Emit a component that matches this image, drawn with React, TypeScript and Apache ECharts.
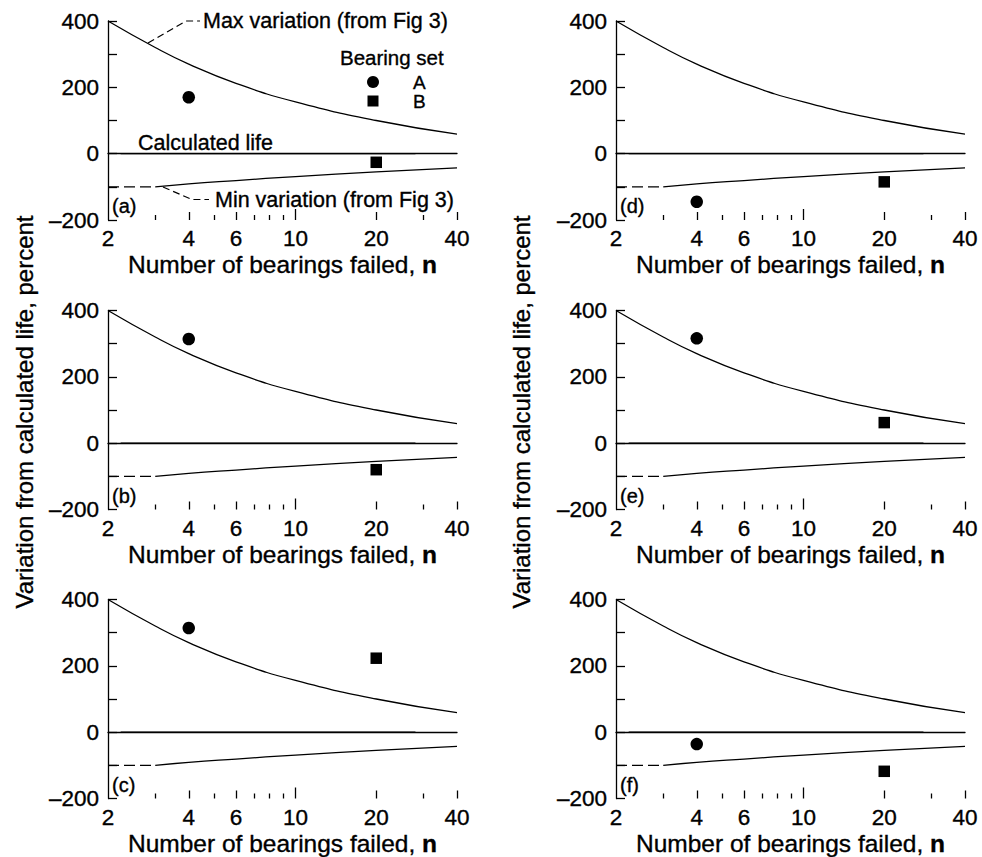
import React, { useEffect, useRef } from "react";
import * as echarts from "echarts";

const FONT = "'Liberation Sans', Arial, Helvetica, sans-serif";

// Envelope curves (from Fig 3), x = number of bearings failed n, y = percent
const nMax = [2, 3, 4, 6, 10, 20, 40];
const maxVariation = [400, 320, 270, 212, 156, 100, 59];
const nMin = [3, 4, 6, 10, 20, 40];
const minVariation = [-100, -91, -81, -69, -55, -43];
const nMinDash = [2, 3];
const minDash = [-100, -100];
const nCalc = [2.23, 28];
const calcLife = [0, 0];

// Bearing sets per panel (a)..(f)
const panelLabels = ["(a)", "(b)", "(c)", "(d)", "(e)", "(f)"];
const nSetA = 4;
const nSetB = 20;
const setA = [170, 314, 314, -145, 316, -36];
const setB = [-26, -80, 223, -85, 62, -118];

// Ticks
const xLabelTicks = [2, 4, 6, 10, 20, 40];
const xMinorTicks = [3, 5, 7, 8, 9, 30];
const xMidTicks = [4, 6, 20, 40];
const xMajorTicks = [10];
const yMin = -200;
const yMax = 400;
const yStep = 100;

const colLeft = [108, 616];
const rowTop = [21, 310.5, 599.5];
const GW = 349;
const GH = 199;

const black = "#000";
const heavy = { textBorderColor: black, textBorderWidth: 0.35 };

function buildOption() {
  const grid: any[] = [];
  const xAxis: any[] = [];
  const yAxis: any[] = [];
  const series: any[] = [];
  const lx = (v: number) => Math.log10(v);

  panelLabels.forEach((lab, i) => {
    const col = i < 3 ? 0 : 1;
    const row = i % 3;
    const rect = { left: colLeft[col], top: rowTop[row], width: GW, height: GH, containLabel: false, outerBoundsMode: "none" };
    const base = grid.length;
    // main grid with log axis for data
    grid.push({ ...rect });
    xAxis.push({
      type: "log",
      logBase: 10,
      gridIndex: base,
      min: 2,
      max: 40,
      axisLine: { show: true, lineStyle: { color: black, width: 1.3 } },
      axisTick: { show: false },
      axisLabel: { show: false },
      splitLine: { show: false },
      minorTick: { show: false },
      name: "Number of bearings failed, {b|n}",
      nameLocation: "middle",
      nameGap: 32,
      nameTextStyle: {
        color: black,
        fontSize: 24.5,
        fontFamily: FONT,
        ...heavy,
        rich: { b: { fontWeight: "bold", fontSize: 24.5, fontFamily: FONT, color: black } },
      },
    });
    yAxis.push({
      type: "value",
      gridIndex: base,
      min: yMin,
      max: yMax,
      interval: yStep,
      axisLine: { show: true, lineStyle: { color: black, width: 1.3 } },
      axisTick: { show: true, inside: true, length: 9, lineStyle: { color: black, width: 1.3 } },
      axisLabel: {
        color: black,
        fontSize: 22.5,
        fontFamily: FONT,
        margin: 9,
        ...heavy,
        formatter: (v: number) => (Math.abs(v) % 200 === 0 ? (v < 0 ? "\u2013" + Math.abs(v) : String(v)) : ""),
      },
      splitLine: { show: false },
    });
    // overlay grids for x ticks of different lengths
    const overlays = [
      { ticks: xMinorTicks, len: 5, labels: true },
      { ticks: xMidTicks, len: 8, labels: false },
      { ticks: xMajorTicks, len: 11, labels: false },
    ];
    overlays.forEach((o) => {
      const g = grid.length;
      grid.push({ ...rect });
      xAxis.push({
        type: "value",
        gridIndex: g,
        min: lx(2),
        max: lx(40),
        axisLine: { show: false },
        axisTick: {
          show: true,
          inside: true,
          length: o.len,
          customValues: o.ticks.map(lx),
          lineStyle: { color: black, width: 1.3 },
        },
        axisLabel: o.labels
          ? {
              show: true,
              color: black,
              fontSize: 22.5,
              fontFamily: FONT,
              margin: 7,
              ...heavy,
              customValues: xLabelTicks.map(lx),
              formatter: (v: number) => String(Math.round(Math.pow(10, v))),
            }
          : { show: false },
        splitLine: { show: false },
      });
      yAxis.push({ type: "value", gridIndex: g, min: 0, max: 1, show: false });
    });

    const ax = { xAxisIndex: base, yAxisIndex: base };
    const lineCommon = { type: "line", showSymbol: false, symbol: "none", silent: true, ...ax };
    series.push({
      ...lineCommon,
      name: "Max variation",
      smooth: true,
      data: nMax.map((n, k) => [n, maxVariation[k]]),
      lineStyle: { color: black, width: 1.3 },
    });
    series.push({
      ...lineCommon,
      name: "Min variation",
      smooth: true,
      data: nMin.map((n, k) => [n, minVariation[k]]),
      lineStyle: { color: black, width: 1.3 },
    });
    series.push({
      ...lineCommon,
      name: "Min variation (extrapolated)",
      data: nMinDash.map((n, k) => [n, minDash[k]]),
      lineStyle: { color: black, width: 1.3, type: [11, 5] },
    });
    series.push({
      ...lineCommon,
      name: "Calculated life",
      data: nCalc.map((n, k) => [n, calcLife[k]]),
      lineStyle: { color: black, width: 1.3 },
    });
    series.push({
      type: "scatter",
      name: "A",
      ...ax,
      symbol: "circle",
      symbolSize: 12.5,
      itemStyle: { color: black, opacity: 1 },
      data: [[nSetA, setA[i]]],
    });
    series.push({
      type: "scatter",
      name: "B",
      ...ax,
      symbol: "rect",
      symbolSize: 11.5,
      itemStyle: { color: black, opacity: 1 },
      data: [[nSetB, setB[i]]],
    });
  });

  const txt = (x: number, y: number, text: string, size: number, extra: any = {}) => ({
    type: "text",
    x,
    y,
    style: {
      text,
      fill: black,
      font: `${size}px ${FONT}`,
      textAlign: "left",
      textVerticalAlign: "middle",
      stroke: black,
      lineWidth: 0.35,
      ...extra,
    },
    silent: true,
  });

  const graphic: any[] = [];
  // panel labels
  panelLabels.forEach((lab, i) => {
    const col = i < 3 ? 0 : 1;
    const row = i % 3;
    graphic.push(txt(colLeft[col] + 4, rowTop[row] + GH - 14, lab, 20));
  });
  // y axis titles
  [24, 521].forEach((x) => {
    graphic.push({
      type: "text",
      x,
      y: 412,
      rotation: Math.PI / 2,
      style: {
        text: "Variation from calculated life, percent",
        fill: black,
        stroke: black,
        lineWidth: 0.35,
        font: `24px ${FONT}`,
        textAlign: "center",
        textVerticalAlign: "middle",
      },
      silent: true,
    });
  });
  // annotations in panel (a)
  graphic.push({
    type: "polyline",
    shape: { points: [[148, 43], [186, 21], [200, 21]] },
    style: { stroke: black, lineWidth: 1.2, lineDash: [7, 4], fill: null },
    silent: true,
  });
  graphic.push(txt(203, 21, "Max variation (from Fig 3)", 21.5));
  graphic.push({
    type: "polyline",
    shape: { points: [[163, 187], [192, 199.5], [209, 199.5]] },
    style: { stroke: black, lineWidth: 1.2, lineDash: [7, 4], fill: null },
    silent: true,
  });
  graphic.push(txt(215, 200, "Min variation (from Fig 3)", 21.5));
  graphic.push(txt(138, 143, "Calculated life", 21.5));
  // legend
  graphic.push(txt(340, 57, "Bearing set", 20.5));
  graphic.push({ type: "circle", shape: { cx: 373, cy: 82, r: 6 }, style: { fill: black }, silent: true });
  graphic.push({ type: "rect", shape: { x: 367.5, y: 95.5, width: 11, height: 11 }, style: { fill: black }, silent: true });
  graphic.push(txt(413, 82, "A", 19));
  graphic.push(txt(413, 101.5, "B", 19));

  return {
    animation: false,
    backgroundColor: "#fff",
    textStyle: { fontFamily: FONT, color: black },
    grid,
    xAxis,
    yAxis,
    series,
    graphic,
  };
}

export default function App() {
  const ref = useRef<HTMLDivElement>(null);
  useEffect(() => {
    if (!ref.current) return;
    const chart = echarts.init(ref.current, null, { renderer: "svg" });
    chart.setOption(buildOption() as any);
    return () => chart.dispose();
  }, []);
  return (
    <div
      ref={ref}
      style={{ position: "fixed", left: 0, top: 0, width: 982, height: 857, background: "#fff" }}
    />
  );
}
